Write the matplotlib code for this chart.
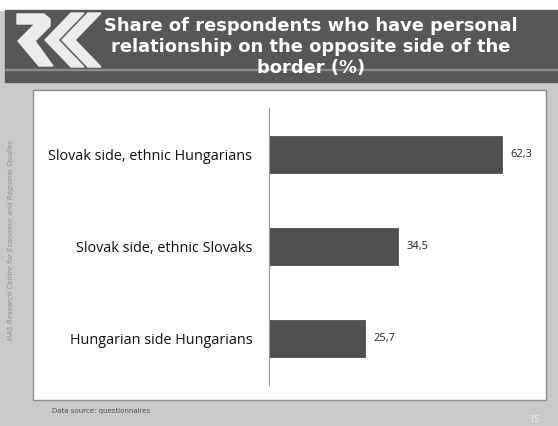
import matplotlib.pyplot as plt
from matplotlib.patches import Rectangle, Polygon

# data
categories = ["Slovak side, ethnic Hungarians", "Slovak side, ethnic Slovaks", "Hungarian side Hungarians"]
values = [62.3, 34.5, 25.7]
value_labels = ["62,3", "34,5", "25,7"]

W, H = 558, 426
fig = plt.figure(figsize=(W / 100, H / 100), dpi=100)
fig.patch.set_facecolor("#c9c9c9")

def fx(x):
    return x / W

def fy(y):
    return 1 - y / H

def shape(pts, color="#ececec"):
    fig.patches.append(Polygon([(fx(a), fy(b)) for a, b in pts], closed=True,
                               transform=fig.transFigure, color=color, zorder=2))

# top white strip and dark header
fig.patches.append(Rectangle((0, fy(10)), 1, 10 / H, transform=fig.transFigure, color="white", zorder=0))
fig.patches.append(Rectangle((fx(5), fy(82)), 1, 72 / H, transform=fig.transFigure, color="#575757", zorder=0))
fig.patches.append(Rectangle((fx(5), fy(70)), 1, 1.5 / H, transform=fig.transFigure, color="#8a8a8a", zorder=1))

# logo: R plus two chevrons
shape([(17, 14), (44, 14), (50, 19), (50, 26), (35, 41), (53, 66), (39, 66), (18, 41), (35, 24), (17, 24)])
shape([(71, 13), (84, 13), (58, 40), (84, 67), (71, 67), (45, 40)])
shape([(88, 13), (101, 13), (75, 40), (101, 67), (88, 67), (62, 40)])

fig.text(fx(311), fy(47), "Share of respondents who have personal\nrelationship on the opposite side of the\nborder (%)",
         ha="center", va="center", color="white", fontsize=12.9, fontweight="bold",
         family="DejaVu Sans", linespacing=1.22)

# white plot box
fig.patches.append(Rectangle((fx(33), fy(400)), (546 - 33) / W, (400 - 90) / H, transform=fig.transFigure,
                             facecolor="white", edgecolor="#8c8c8c", linewidth=1, zorder=1))

fig.text(fx(11), fy(240), "HAS Research Centre for Economic and Regional Studies", rotation=90,
         ha="center", va="center", fontsize=5, color="#8f8f8f", style="italic")
fig.text(fx(52), fy(411), "Data source: questionnaires", ha="left", va="center", fontsize=5, color="#555555")
fig.text(fx(534), fy(419), "15", ha="center", va="center", fontsize=6, color="#eeeeee")

ax = fig.add_axes([fx(269), fy(385), (531 - 269) / W, (385 - 108) / H])
ax.set_zorder(5)
ax.set_facecolor("none")
pos = list(range(len(categories)))[::-1]
bars = ax.barh(pos, values, height=0.4, color="#505050", edgecolor="#404040", linewidth=0.5)
ax.set_xlim(0, 70)
ax.set_ylim(-0.5, 2.5)
ax.set_yticks(pos)
ax.set_yticklabels(categories, fontsize=10.4, family="Open Sans", color="#111111")
ax.tick_params(axis="y", length=0, pad=12)
ax.set_xticks([])
for s in ["top", "right", "bottom"]:
    ax.spines[s].set_visible(False)
ax.spines["left"].set_color("#9a9a9a")
ax.spines["left"].set_linewidth(0.8)
for b, lab in zip(bars, value_labels):
    ax.text(b.get_width() + 2.3, b.get_y() + b.get_height() / 2, lab, va="center", ha="left",
            fontsize=8, family="Open Sans", color="#222222")

fig.savefig("out.png", dpi=100, facecolor=fig.get_facecolor())
